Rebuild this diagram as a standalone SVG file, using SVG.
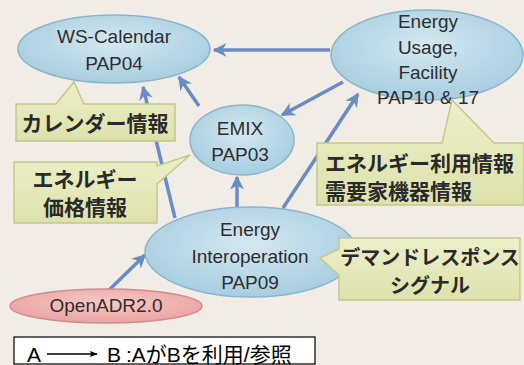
<svg xmlns="http://www.w3.org/2000/svg" width="524" height="365" viewBox="0 0 524 365">
<defs>
<radialGradient id="gb" cx="50%" cy="40%" r="60%">
<stop offset="0" stop-color="#d5e8f0"/>
<stop offset="1" stop-color="#a6cde0"/>
</radialGradient>
<radialGradient id="gp" cx="50%" cy="40%" r="60%">
<stop offset="0" stop-color="#f7c9c6"/>
<stop offset="1" stop-color="#e9a3a3"/>
</radialGradient>
<linearGradient id="gy" x1="0" y1="0" x2="0" y2="1">
<stop offset="0" stop-color="#ecefc8"/>
<stop offset="1" stop-color="#dde2ac"/>
</linearGradient>
<marker id="ah" viewBox="0 0 10 10" refX="9" refY="5" markerWidth="4" markerHeight="4" orient="auto" markerUnits="strokeWidth">
<path d="M0,0 L10,5 L0,10 L3,5 Z" fill="#6a8cc4"/>
</marker>
<marker id="lah" viewBox="0 0 10 10" refX="9" refY="5" markerWidth="8" markerHeight="8" orient="auto" markerUnits="userSpaceOnUse">
<path d="M0,1 L10,5 L0,9 L2,5 Z" fill="#000"/>
</marker>
</defs>
<style>
.ell{fill:url(#gb);stroke:#8db4cb;stroke-width:1.5}
.pink{fill:url(#gp);stroke:#d38c8c;stroke-width:1.5}
.call{fill:url(#gy);stroke:#c4c88a;stroke-width:1.5}
.lbl{font-family:"Liberation Sans","Open Sans",sans-serif;font-size:19px;fill:#2e2e2e;text-anchor:middle}
.jp{font-family:"Noto Sans CJK JP",sans-serif;font-size:21px;font-weight:bold;fill:#2a2a2a;text-anchor:middle}
.con{stroke:#6a8cc4;stroke-width:3.5;fill:none;marker-end:url(#ah)}
.leg{font-family:"Liberation Sans","Noto Sans CJK JP",sans-serif;font-size:21px;fill:#000}
</style>
<rect width="524" height="365" fill="#f1ece6"/>
<g id="connectors">
<line class="con" x1="330" y1="50" x2="214" y2="50"/>
<line class="con" x1="343" y1="82" x2="282" y2="115"/>
<line class="con" x1="199" y1="106" x2="179" y2="77"/>
<line class="con" x1="175" y1="218" x2="143" y2="87"/>
<line class="con" x1="237" y1="210" x2="237" y2="177"/>
<line class="con" x1="283" y1="208" x2="358" y2="94"/>
<line class="con" x1="109" y1="290" x2="145" y2="255"/>
</g>
<g id="ws-calendar">
<ellipse class="ell" cx="114" cy="49" rx="96" ry="34"/>
<text class="lbl" x="114" y="43">WS-Calendar</text>
<text class="lbl" x="114" y="70">PAP04</text>
</g>
<g id="energy-usage">
<ellipse class="ell" cx="427" cy="55" rx="96" ry="45"/>
<text class="lbl" x="428" y="28">Energy</text>
<text class="lbl" x="428" y="54">Usage,</text>
<text class="lbl" x="428" y="79">Facility</text>
<text class="lbl" x="428" y="104">PAP10 &amp; 17</text>
</g>
<g id="emix">
<ellipse class="ell" cx="242" cy="140" rx="52" ry="35"/>
<text class="lbl" x="240" y="135">EMIX</text>
<text class="lbl" x="240" y="161">PAP03</text>
</g>
<g id="energy-interoperation">
<ellipse class="ell" cx="251" cy="252" rx="106" ry="45"/>
<text class="lbl" x="250" y="236">Energy</text>
<text class="lbl" x="250" y="263">Interoperation</text>
<text class="lbl" x="250" y="289">PAP09</text>
</g>
<g id="openadr">
<ellipse class="pink" cx="106" cy="306" rx="96" ry="17"/>
<text class="lbl" x="106" y="312">OpenADR2.0</text>
</g>
<g id="callout-calendar">
<path class="call" d="M16,104 H56 L74,82 L84,104 H175 V141 H16 Z"/>
<text class="jp" x="95" y="131">カレンダー情報</text>
</g>
<g id="callout-price">
<path class="call" d="M14,162 H157 V166 L190,155 L157,184 V223 H14 Z"/>
<text class="jp" x="85" y="187">エネルギー</text>
<text class="jp" x="85" y="215">価格情報</text>
</g>
<g id="callout-usage">
<path class="call" d="M317,143 H442 L452,100 L494,143 H524 V205 H317 Z"/>
<text class="jp" x="325" y="171" style="text-anchor:start">エネルギー利用情報</text>
<text class="jp" x="325" y="199" style="text-anchor:start">需要家機器情報</text>
</g>
<g id="callout-dr">
<path class="call" d="M339,238 H520 V300 H339 V275 L320,258 L339,249 Z"/>
<text class="jp" x="430" y="265" style="font-size:20px">デマンドレスポンス</text>
<text class="jp" x="430" y="293" style="font-size:20px">シグナル</text>
</g>
<g id="legend">
<rect x="14" y="337" width="301" height="27" fill="#fff" stroke="#000" stroke-width="1.2"/>
<text class="leg" x="27" y="362">A</text>
<line x1="47" y1="354" x2="97" y2="354" stroke="#000" stroke-width="1.3" marker-end="url(#lah)"/>
<text class="leg" x="107" y="362">B</text>
<text class="leg" x="126" y="362">:AがBを利用/参照</text>
</g>
</svg>
